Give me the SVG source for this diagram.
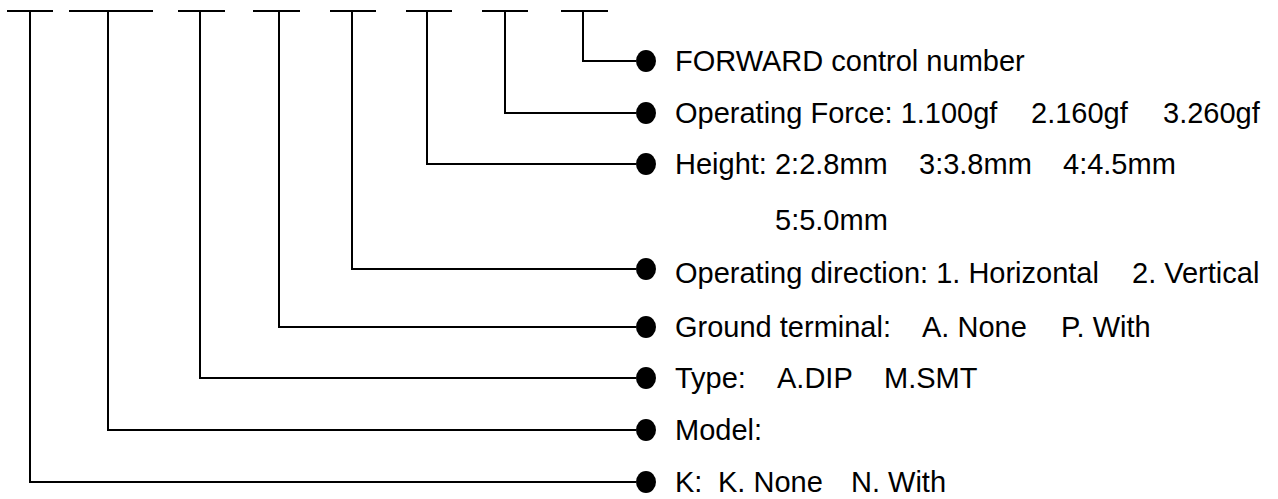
<svg xmlns="http://www.w3.org/2000/svg" width="1278" height="499" viewBox="0 0 1278 499">
<style>
.ln{stroke:#000;stroke-width:2;fill:none}
.bt{fill:#000}
.tx{font-family:"Liberation Sans",Arial,sans-serif;font-size:29px;fill:#000}
</style>
<defs>
<ellipse id="dot" cx="0" cy="0" rx="10" ry="11"/>
</defs>
<rect width="1278" height="499" fill="#fff"/>
<g id="code-slots" class="ln">
<line x1="7" y1="11" x2="53" y2="11"/>
<line x1="69" y1="11" x2="153" y2="11"/>
<line x1="178" y1="11" x2="225" y2="11"/>
<line x1="253" y1="11" x2="300" y2="11"/>
<line x1="330" y1="11" x2="376" y2="11"/>
<line x1="406" y1="11" x2="452" y2="11"/>
<line x1="482" y1="11" x2="528" y2="11"/>
<line x1="561" y1="11" x2="608" y2="11"/>
</g>
<g id="connectors" class="ln">
<path d="M583 11V61H636"/>
<path d="M505 11V113H636"/>
<path d="M427 11V164H636"/>
<path d="M352 11V269H636"/>
<path d="M279 11V327H636"/>
<path d="M200 11V378H636"/>
<path d="M108 11V430H636"/>
<path d="M30 11V482H636"/>
</g>
<g id="n-forward"><use href="#dot" x="646" y="61"/><text class="tx" x="675" y="71">FORWARD control number</text></g>
<g id="n-force"><use href="#dot" x="646" y="113"/><text class="tx" y="123"><tspan x="675">Operating Force: 1.100gf</tspan><tspan x="1031">2.160gf</tspan><tspan x="1163">3.260gf</tspan></text></g>
<g id="n-height"><use href="#dot" x="646" y="164"/><text class="tx" y="174"><tspan x="675">Height: 2:2.8mm</tspan><tspan x="919">3:3.8mm</tspan><tspan x="1063">4:4.5mm</tspan></text><text class="tx" x="775" y="230">5:5.0mm</text></g>
<g id="n-direction"><use href="#dot" x="646" y="269"/><text class="tx" x="675" y="283">Operating direction: 1. Horizontal<tspan x="1132">2. Vertical</tspan></text></g>
<g id="n-ground"><use href="#dot" x="646" y="327"/><text class="tx" y="337"><tspan x="675">Ground terminal:</tspan><tspan x="922">A. None</tspan><tspan x="1061">P. With</tspan></text></g>
<g id="n-type"><use href="#dot" x="646" y="378"/><text class="tx" y="388"><tspan x="675">Type:</tspan><tspan x="777">A.DIP</tspan><tspan x="884">M.SMT</tspan></text></g>
<g id="n-model"><use href="#dot" x="646" y="430"/><text class="tx" x="675" y="440">Model:</text></g>
<g id="n-k"><use href="#dot" x="646" y="482"/><text class="tx" y="492"><tspan x="675">K:</tspan><tspan x="718">K. None</tspan><tspan x="851">N. With</tspan></text></g>
</svg>
